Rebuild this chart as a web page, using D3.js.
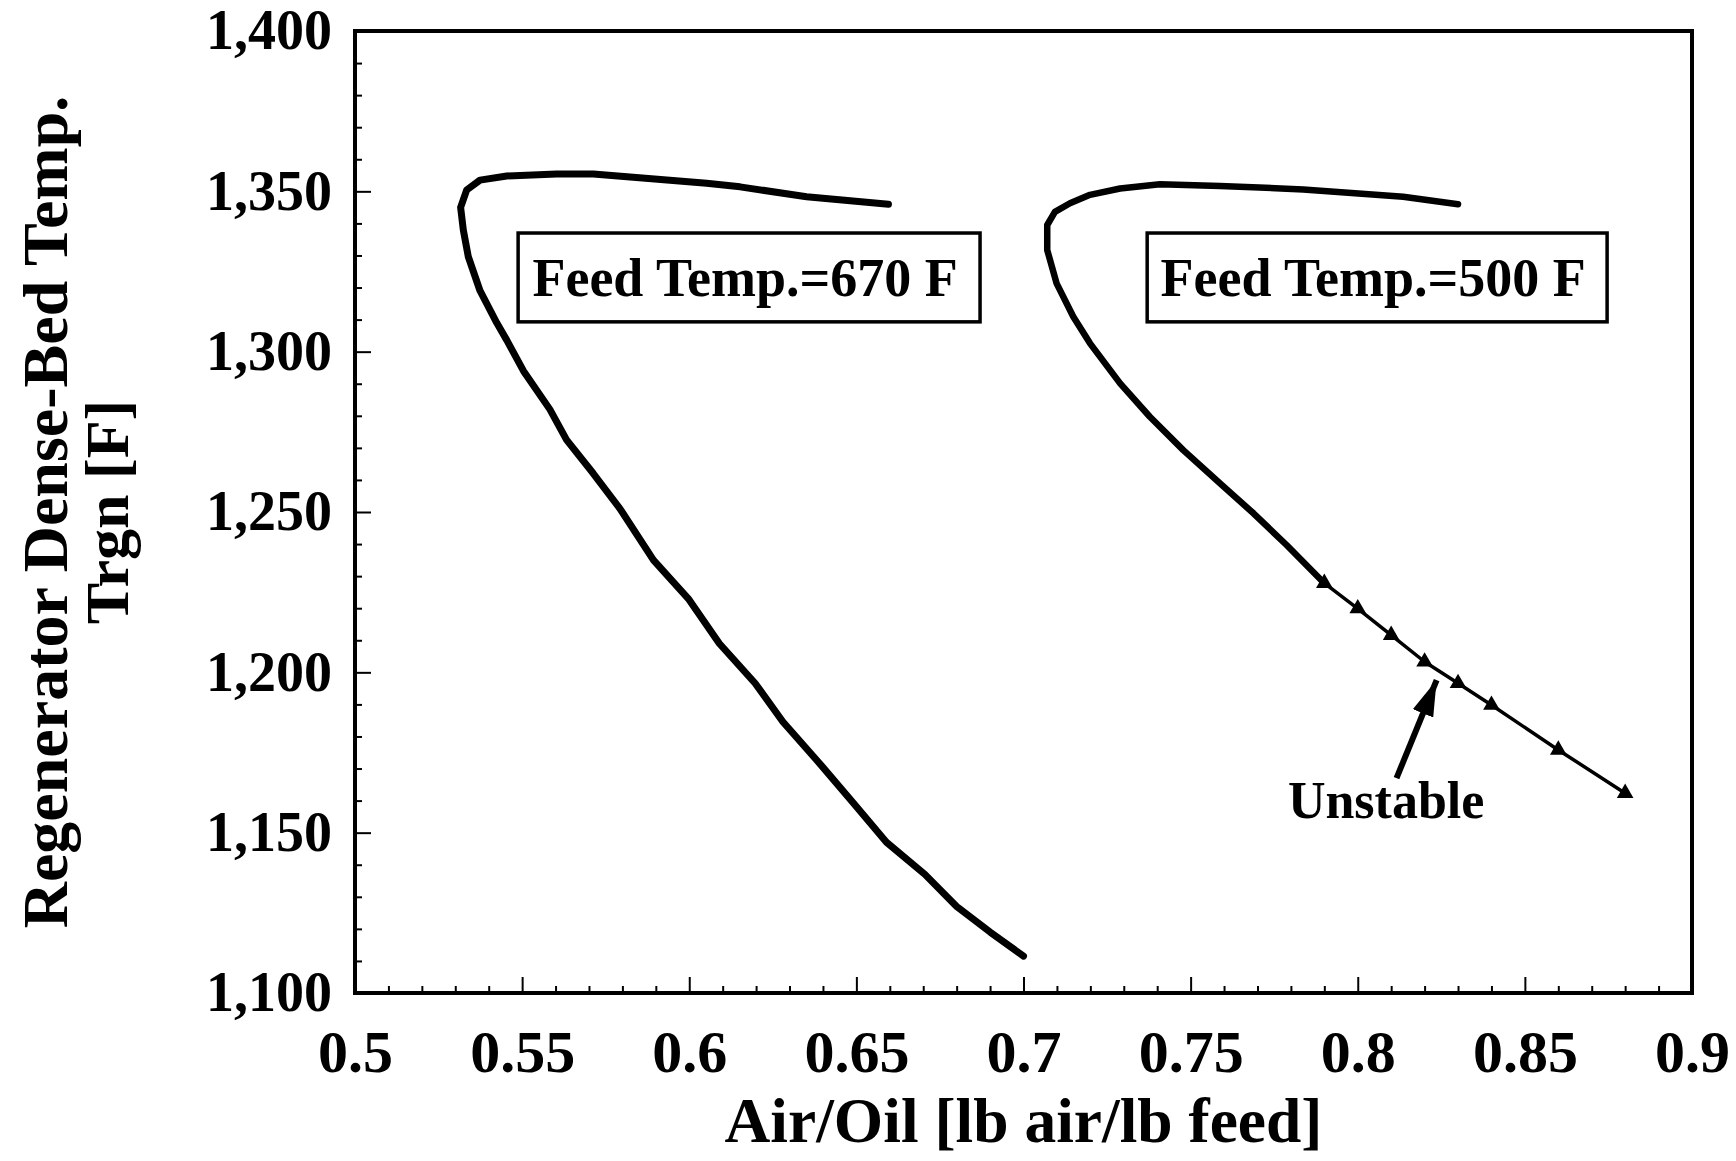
<!DOCTYPE html>
<html>
<head>
<meta charset="utf-8">
<script src="https://cdn.jsdelivr.net/npm/d3@7"></script>
<style>
  html, body { margin: 0; padding: 0; background: #fff; }
  svg { display: block; }
  text { font-family: "Liberation Serif", "Times New Roman", serif; font-weight: bold; fill: #000; }
</style>
</head>
<body>
<svg id="chart" width="1736" height="1161"></svg>
<script>
// ---- data ----
const xMajorTicks = [0.5, 0.55, 0.6, 0.65, 0.7, 0.75, 0.8, 0.85, 0.9];
const xTickLabels = ["0.5", "0.55", "0.6", "0.65", "0.7", "0.75", "0.8", "0.85", "0.9"];
const yMajorTicks = [1100, 1150, 1200, 1250, 1300, 1350, 1400];
const yTickLabels = ["1,100", "1,150", "1,200", "1,250", "1,300", "1,350", "1,400"];

// Feed Temp = 670 F
const feed670X = [0.700, 0.690, 0.680, 0.6705, 0.659, 0.6496, 0.639, 0.628, 0.6197, 0.609, 0.5997, 0.5893, 0.5793, 0.5713, 0.5633, 0.5583, 0.5504, 0.5454, 0.5424, 0.5374, 0.5339, 0.5324, 0.5316, 0.5334, 0.5374, 0.5454, 0.5603, 0.5713, 0.6052, 0.6152, 0.6351, 0.6596];
const feed670Y = [1111.5, 1119, 1127, 1137, 1147, 1158.6, 1171.6, 1184.6, 1196.6, 1209, 1223, 1235, 1251, 1262, 1272.5, 1282, 1294, 1303.6, 1309, 1319, 1329.6, 1338, 1345, 1350.4, 1353.5, 1354.8, 1355.4, 1355.4, 1352.5, 1351.4, 1348.3, 1346];

// Feed Temp = 500 F (stable branch)
const feed500X = [0.830, 0.8136, 0.7837, 0.7588, 0.7408, 0.7289, 0.7199, 0.7139, 0.7094, 0.7071, 0.7071, 0.7099, 0.7149, 0.7199, 0.7289, 0.7378, 0.7478, 0.7588, 0.7688, 0.7787, 0.790];
const feed500Y = [1346, 1348.3, 1350.6, 1351.7, 1352.2, 1350.9, 1348.9, 1346.3, 1343.6, 1339.5, 1331.7, 1321.3, 1310.9, 1302.6, 1290.1, 1279.7, 1269.3, 1258.9, 1249.6, 1239.7, 1227.8];

// Feed Temp = 500 F (unstable branch, triangle markers)
const unstableX = [0.79, 0.80, 0.81, 0.82, 0.83, 0.84, 0.86, 0.88];
const unstableY = [1227.8, 1219.9, 1211.6, 1203.3, 1196.6, 1189.8, 1175.8, 1162.3];

// annotations (data coordinates)
const boxLabels = ["Feed Temp.=670 F", "Feed Temp.=500 F"];
const boxX0 = [0.5488, 0.7370];
const boxX1 = [0.6870, 0.8746];
const boxYTop = [1337, 1337];
const boxYBottom = [1309.3, 1309.3];
const arrowFrom = [0.8116, 1167];
const arrowTo = [0.8236, 1197.6];
const unstableLabel = "Unstable";
const unstableLabelPos = [0.7791, 1154.6];

// ---- layout ----
const svg = d3.select("#chart");
const L = 355, R = 1692, T = 31, B = 993;
const x = d3.scaleLinear().domain([0.5, 0.9]).range([L, R]);
const y = d3.scaleLinear().domain([1100, 1400]).range([B, T]);

const xMinor = d3.range(50, 91).map(d => d / 100).filter(d => !xMajorTicks.some(m => Math.abs(m - d) < 1e-9));
const yMinor = d3.range(1100, 1401, 10).filter(d => d % 50 !== 0);

// minor ticks
svg.append("g").attr("transform", `translate(0,${B})`)
  .call(d3.axisBottom(x).tickValues(xMinor).tickSize(-7).tickFormat(""))
  .call(g => g.select(".domain").remove())
  .call(g => g.selectAll("line").attr("stroke", "#000").attr("stroke-width", 2));
svg.append("g").attr("transform", `translate(${L},0)`)
  .call(d3.axisLeft(y).tickValues(yMinor).tickSize(-7).tickFormat(""))
  .call(g => g.select(".domain").remove())
  .call(g => g.selectAll("line").attr("stroke", "#000").attr("stroke-width", 2));

// major ticks + labels
svg.append("g").attr("transform", `translate(0,${B})`)
  .call(d3.axisBottom(x).tickValues(xMajorTicks).tickSize(-16).tickPadding(36)
        .tickFormat((d, i) => xTickLabels[i]))
  .call(g => g.select(".domain").remove())
  .call(g => g.selectAll("line").attr("stroke", "#000").attr("stroke-width", 2))
  .call(g => g.selectAll("text").attr("font-size", 60).attr("font-family", "Liberation Serif").attr("font-weight", "bold").attr("fill", "#000"));

svg.append("g").attr("transform", `translate(${L},0)`)
  .call(d3.axisLeft(y).tickValues(yMajorTicks).tickSize(-16).tickPadding(23)
        .tickFormat((d, i) => yTickLabels[i]))
  .call(g => g.select(".domain").remove())
  .call(g => g.selectAll("line").attr("stroke", "#000").attr("stroke-width", 2))
  .call(g => g.selectAll("text").attr("font-size", 56).attr("font-family", "Liberation Serif").attr("font-weight", "bold").attr("fill", "#000"));

// frame
svg.append("rect").attr("x", L).attr("y", T).attr("width", R - L).attr("height", B - T)
  .attr("fill", "none").attr("stroke", "#000").attr("stroke-width", 4);

// axis titles
svg.append("text").attr("x", (L + R) / 2).attr("y", 1142).attr("text-anchor", "middle")
  .attr("font-size", 64).attr("textLength", 598).attr("lengthAdjust", "spacingAndGlyphs")
  .text("Air/Oil [lb air/lb feed]");
svg.append("text").attr("transform", `translate(67,${(T + B) / 2}) rotate(-90)`)
  .attr("text-anchor", "middle").attr("font-size", 64)
  .text("Regenerator Dense-Bed Temp.");
svg.append("text").attr("transform", `translate(128,${(T + B) / 2}) rotate(-90)`)
  .attr("text-anchor", "middle").attr("font-size", 62)
  .text("Trgn [F]");

// curves
const line = d3.line().x(d => x(d[0])).y(d => y(d[1]));
const c670 = feed670X.map((v, i) => [v, feed670Y[i]]);
const c500 = feed500X.map((v, i) => [v, feed500Y[i]]);
const cUn = unstableX.map((v, i) => [v, unstableY[i]]);

svg.append("path").datum(c670).attr("d", line).attr("fill", "none").attr("stroke", "#000")
  .attr("stroke-width", 7).attr("stroke-linejoin", "round").attr("stroke-linecap", "round");
svg.append("path").datum(c500).attr("d", line).attr("fill", "none").attr("stroke", "#000")
  .attr("stroke-width", 6.5).attr("stroke-linejoin", "round").attr("stroke-linecap", "round");
svg.append("path").datum(cUn).attr("d", line).attr("fill", "none").attr("stroke", "#000")
  .attr("stroke-width", 3.5).attr("stroke-linejoin", "round");
svg.append("g").selectAll("path").data(cUn).join("path")
  .attr("transform", d => `translate(${x(d[0])},${y(d[1])})`)
  .attr("d", d3.symbol(d3.symbolTriangle, 120))
  .attr("fill", "#000");

// label boxes
boxLabels.forEach((lab, i) => {
  const bx0 = x(boxX0[i]), bx1 = x(boxX1[i]), by0 = y(boxYTop[i]), by1 = y(boxYBottom[i]);
  svg.append("rect").attr("x", bx0).attr("y", by0).attr("width", bx1 - bx0).attr("height", by1 - by0)
    .attr("fill", "#fff").attr("stroke", "#000").attr("stroke-width", 3.5);
  svg.append("text").attr("x", (bx0 + bx1) / 2 - 4).attr("y", by1 - 26)
    .attr("text-anchor", "middle").attr("font-size", 54).text(lab);
});

// unstable arrow + label
const defs = svg.append("defs");
defs.append("marker").attr("id", "ah").attr("markerUnits", "userSpaceOnUse")
  .attr("viewBox", "0 0 36 22").attr("refX", 36).attr("refY", 11)
  .attr("markerWidth", 36).attr("markerHeight", 22).attr("orient", "auto")
  .append("path").attr("d", "M0,0 L36,11 L0,22 Z").attr("fill", "#000");
svg.append("line")
  .attr("x1", x(arrowFrom[0])).attr("y1", y(arrowFrom[1]))
  .attr("x2", x(arrowTo[0])).attr("y2", y(arrowTo[1]))
  .attr("stroke", "#000").attr("stroke-width", 6).attr("marker-end", "url(#ah)");
svg.append("text").attr("x", x(unstableLabelPos[0])).attr("y", y(unstableLabelPos[1]))
  .attr("font-size", 52).text(unstableLabel);
</script>
</body>
</html>
